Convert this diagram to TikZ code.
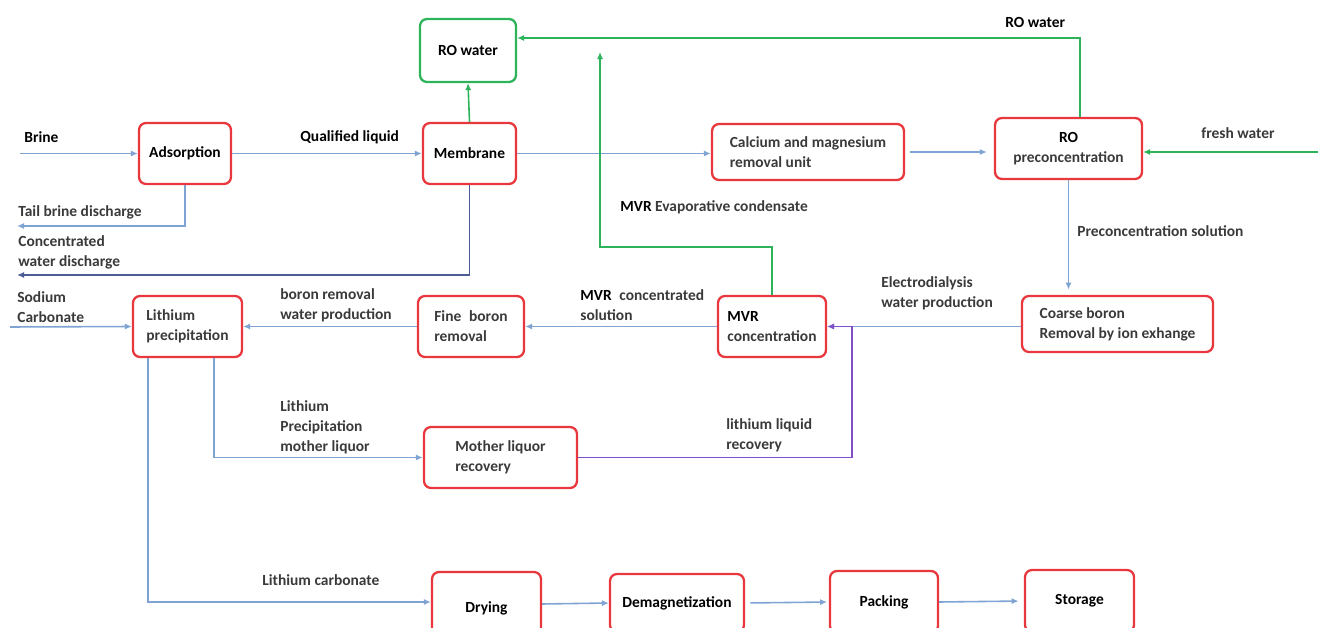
\documentclass[tikz,border=0pt]{standalone}
\usepackage{fontspec}
\setmainfont{Carlito}
\usetikzlibrary{arrows.meta}
\definecolor{boxred}{HTML}{E8383D}
\definecolor{flowgreen}{HTML}{2DB45A}
\definecolor{flowblue}{HTML}{7FA3D3}
\definecolor{flowslate}{HTML}{4E5C96}
\definecolor{flowpurple}{HTML}{8050C8}
\definecolor{labelgray}{HTML}{3A3A3A}
\begin{document}
\begin{tikzpicture}[x=0.02cm, y=-0.02cm,
  font=\fontsize{8.8}{11.4}\selectfont\bfseries,
  unit/.style={draw=boxred, line width=1.3pt, rounded corners=4pt, inner sep=0pt, align=center, text=labelgray},
  waterbox/.style={unit, draw=flowgreen},
  lbl/.style={anchor=west, align=left, text=labelgray, inner sep=0pt},
  flow/.style={draw=flowblue, line width=0.9pt, -{Latex[length=4pt,width=3.5pt]}},
  waste/.style={flow, draw=flowslate},
  wflow/.style={flow, draw=flowgreen},
  rflow/.style={flow, draw=flowpurple}]

\useasboundingbox (0,0) rectangle (1318,628);
\clip (0,0) rectangle (1318,628);

% units
\node[waterbox, minimum width=1.92cm, minimum height=1.26cm, text=black] (rowater) at (468,50.5) {RO water};
\node[unit, minimum width=1.84cm, minimum height=1.22cm, text=black] (adsorp) at (185,153.5) {Adsorption};
\node[unit, minimum width=1.86cm, minimum height=1.22cm, text=black] (membrane) at (469.5,153.5) {Membrane};
\node[unit, minimum width=3.84cm, minimum height=1.12cm, align=left] (camg) at (808,152) {Calcium and magnesium\\removal unit};
\node[unit, minimum width=2.94cm, minimum height=1.22cm] (roprec) at (1068.5,148.5) {\textcolor{black}{RO}\\preconcentration};
\node[unit, minimum width=3.82cm, minimum height=1.12cm, align=left] (coarse) at (1117.5,324) {Coarse boron\\Removal by ion exhange};
\node[unit, minimum width=2.16cm, minimum height=1.22cm, align=left] (mvr) at (772,326.5) {\textcolor{black}{MVR}\\concentration};
\node[unit, minimum width=2.12cm, minimum height=1.22cm, align=left] (fineb) at (471,326.5) {Fine\enspace boron\\removal};
\node[unit, minimum width=2.18cm, minimum height=1.22cm, align=left] (liprec) at (187.5,326.5) {Lithium\\precipitation};
\node[unit, minimum width=3.06cm, minimum height=1.22cm, align=left] (mother) at (500.5,457.5) {Mother liquor\\recovery};
\node[unit, minimum width=2.18cm, minimum height=1.44cm, text=black] (drying) at (486.5,608) {Drying};
\node[unit, minimum width=2.68cm, minimum height=1.16cm, text=black] (demag) at (677,603) {Demagnetization};
\node[unit, minimum width=2.16cm, minimum height=1.24cm, text=black] (packing) at (884,602) {Packing};
\node[unit, minimum width=2.18cm, minimum height=1.24cm, text=black] (storage) at (1079.5,601) {Storage};

% free ends
\coordinate (brinein) at (20,153.5);
\coordinate (tailout) at (17,226);
\coordinate (concout) at (17,275);
\coordinate (freshin) at (1318,152);
\coordinate (condtop) at (600,52);
\coordinate (sodin) at (10,327);

% labels
\node[lbl, text=black] (tbrine) at (24,137) {Brine};
\node[lbl, text=black] (tqual) at (300,137) {Qualified liquid};
\node[lbl] (ttail) at (18,212) {Tail brine discharge};
\node[lbl] (tconc) at (18,252) {Concentrated\\water discharge};
\node[lbl, text=black] (trowater) at (1005,22) {RO water};
\node[lbl] (tfresh) at (1201,133) {fresh water};
\node[lbl] (tpresol) at (1077,231) {Preconcentration solution};
\node[lbl] (tcond) at (620,207) {\textcolor{black}{MVR} Evaporative condensate};
\node[lbl] (telec) at (881,293) {Electrodialysis\\water production};
\node[lbl] (tmvrsol) at (580,305) {\textcolor{black}{MVR}\enspace concentrated\\solution};
\node[lbl] (tboron) at (280,305) {boron removal\\water production};
\node[lbl] (tsod) at (17,307) {Sodium\\Carbonate};
\node[lbl] (tmoth) at (280,427) {Lithium\\Precipitation\\mother liquor};
\node[lbl] (trec) at (726,435) {lithium liquid\\recovery};
\node[lbl] (tli2co3) at (262,580) {Lithium carbonate};

% connectors
\draw[flow] (brinein) -- (adsorp.west);
\draw[flow] (adsorp.east) -- (membrane.west);
\draw[flow] (adsorp.south) |- (tailout);
\draw[waste] (membrane.south) |- (concout);
\draw[wflow] (membrane.north) -- (rowater.south);
\draw[flow] (membrane.east) -- (membrane.east -| camg.west);
\draw[flow, shorten <=3pt, shorten >=4pt] (camg.east) -- (camg.east -| roprec.west);
\draw[wflow] ([xshift=0.23cm]roprec.north) |- ([yshift=0.25cm]rowater.east);
\draw[wflow] (freshin) -- (freshin -| roprec.east);
\draw[flow, shorten >=3pt] (roprec.south) -- (roprec.south |- coarse.north);
\draw[flow] (coarse.west |- mvr.east) -- (mvr.east);
\draw[wflow] (mvr.north) -- ++(0,-48) -| (condtop);
\draw[flow] (mvr.west) -- (fineb.east);
\draw[flow] (fineb.west) -- (liprec.east);
\draw[flow] (sodin) -- (liprec.west);
\draw[flow] ([xshift=0.53cm]liprec.south) |- (mother.west);
\draw[flow] ([xshift=-0.79cm]liprec.south) |- ([yshift=0.12cm]drying.west);
\draw[rflow] (mother.east) -| ([xshift=0.5cm]mvr.east) -- (mvr.east);
\draw[flow] ([yshift=0.08cm]drying.east) -- (demag.west);
\draw[flow, shorten <=3pt, shorten >=1pt] (demag.east) -- (packing.west);
\draw[flow, shorten >=3pt] (packing.east) -- (storage.west);

\end{tikzpicture}
\end{document}
